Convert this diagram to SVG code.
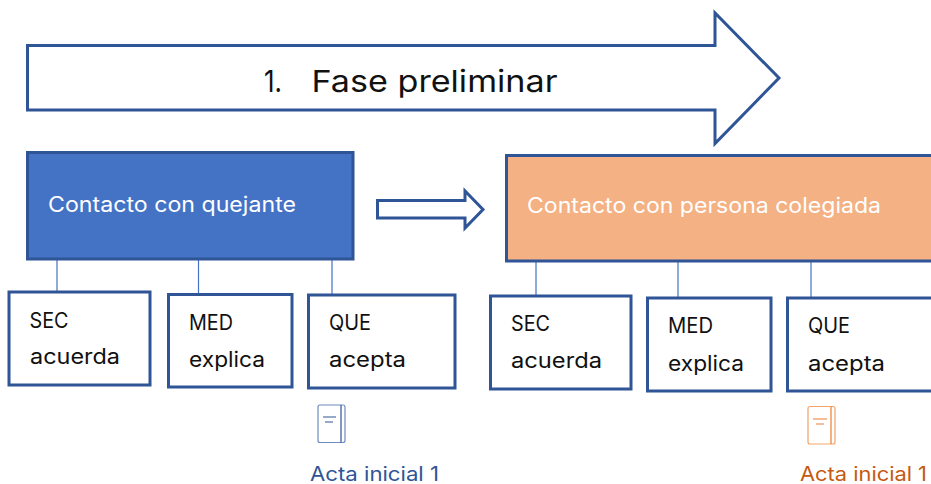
<svg xmlns="http://www.w3.org/2000/svg" width="931" height="484" viewBox="0 0 931 484">
<style>
text{font-family:"Inter","Open Sans","Liberation Sans",sans-serif}
.b{fill:#fff;stroke:#2f5597;stroke-width:3}
.l{stroke:#4472c4;stroke-width:1.2;fill:none}
.t{font-size:21px;fill:#111}
.h{font-size:21px;fill:#fff}
.ic{fill:none;stroke-width:1.2}
</style>
<rect width="931" height="484" fill="#fff"/>
<g id="connectors">
<path class="l" d="M57 259V292M198.500 259V294M332 259V295M536 261V296M678 261V298M811 261V298"/>
</g>
<g id="arrow-main"><path class="b" d="M27.500 45.500H715V13L779 78L715 143.500V110H27.500Z"/>
<text x="264" y="92" font-size="30" fill="#111" textLength="18" lengthAdjust="spacingAndGlyphs">1.</text>
<text x="311.500" y="92" font-size="30" fill="#111" textLength="246" lengthAdjust="spacingAndGlyphs">Fase preliminar</text></g>
<g id="node-quejante"><rect x="27.500" y="152.500" width="325.500" height="106.500" fill="#4472c4" stroke="#2f5597" stroke-width="3"/>
<text class="h" x="48" y="212" textLength="248" lengthAdjust="spacingAndGlyphs">Contacto con quejante</text></g>
<g id="arrow-mid"><path d="M377.500 200.500H465V191L483 209.500L465 228V218H377.500Z" fill="#fff" stroke="#2f5597" stroke-width="3"/></g>
<g id="node-colegiada"><rect x="506.500" y="155.500" width="440" height="105.500" fill="#f4b183" stroke="#2f5597" stroke-width="3"/>
<text class="h" x="527" y="213" textLength="354" lengthAdjust="spacingAndGlyphs">Contacto con persona colegiada</text></g>
<g id="node-sec1"><rect class="b" x="9" y="292" width="141" height="93"/>
<text class="t" x="29.500" y="328" textLength="39" lengthAdjust="spacingAndGlyphs">SEC</text><text class="t" x="30" y="364" textLength="90" lengthAdjust="spacingAndGlyphs">acuerda</text></g>
<g id="node-med1"><rect class="b" x="168.500" y="294.500" width="123.500" height="92.500"/>
<text class="t" x="189" y="330" textLength="44" lengthAdjust="spacingAndGlyphs">MED</text><text class="t" x="189" y="367" textLength="76" lengthAdjust="spacingAndGlyphs">explica</text></g>
<g id="node-que1"><rect class="b" x="308.500" y="295" width="146.500" height="93"/>
<text class="t" x="329" y="330" textLength="42" lengthAdjust="spacingAndGlyphs">QUE</text><text class="t" x="329" y="367" textLength="77" lengthAdjust="spacingAndGlyphs">acepta</text></g>
<g id="node-sec2"><rect class="b" x="490.500" y="296" width="140.500" height="93"/>
<text class="t" x="511" y="331" textLength="39" lengthAdjust="spacingAndGlyphs">SEC</text><text class="t" x="511" y="368" textLength="91" lengthAdjust="spacingAndGlyphs">acuerda</text></g>
<g id="node-med2"><rect class="b" x="647.500" y="298" width="123.500" height="93"/>
<text class="t" x="668" y="333" textLength="45" lengthAdjust="spacingAndGlyphs">MED</text><text class="t" x="668" y="371" textLength="76" lengthAdjust="spacingAndGlyphs">explica</text></g>
<g id="node-que2"><rect class="b" x="787.500" y="298" width="150" height="93"/>
<text class="t" x="808" y="333" textLength="42" lengthAdjust="spacingAndGlyphs">QUE</text><text class="t" x="808" y="371" textLength="77" lengthAdjust="spacingAndGlyphs">acepta</text></g>
<g id="node-acta1">
<rect class="ic" x="318" y="405" width="27" height="37.500" rx="2" stroke="#6f8cbd"/>
<path class="ic" stroke="#2f5597" d="M341 405V442.500M323 417H336M325 422H333"/>
<text x="310" y="480.500" font-size="20" fill="#2f5597" textLength="129" lengthAdjust="spacingAndGlyphs">Acta inicial 1</text></g>
<g id="node-acta2">
<rect class="ic" x="808" y="406.500" width="27" height="37.500" rx="2" stroke="#f4a46a"/>
<path class="ic" stroke="#ed7d31" d="M831 406.500V444M813 419H827M816 424H824"/>
<text x="800" y="480.500" font-size="20" fill="#c55a11" textLength="127" lengthAdjust="spacingAndGlyphs">Acta inicial 1</text></g>
</svg>
